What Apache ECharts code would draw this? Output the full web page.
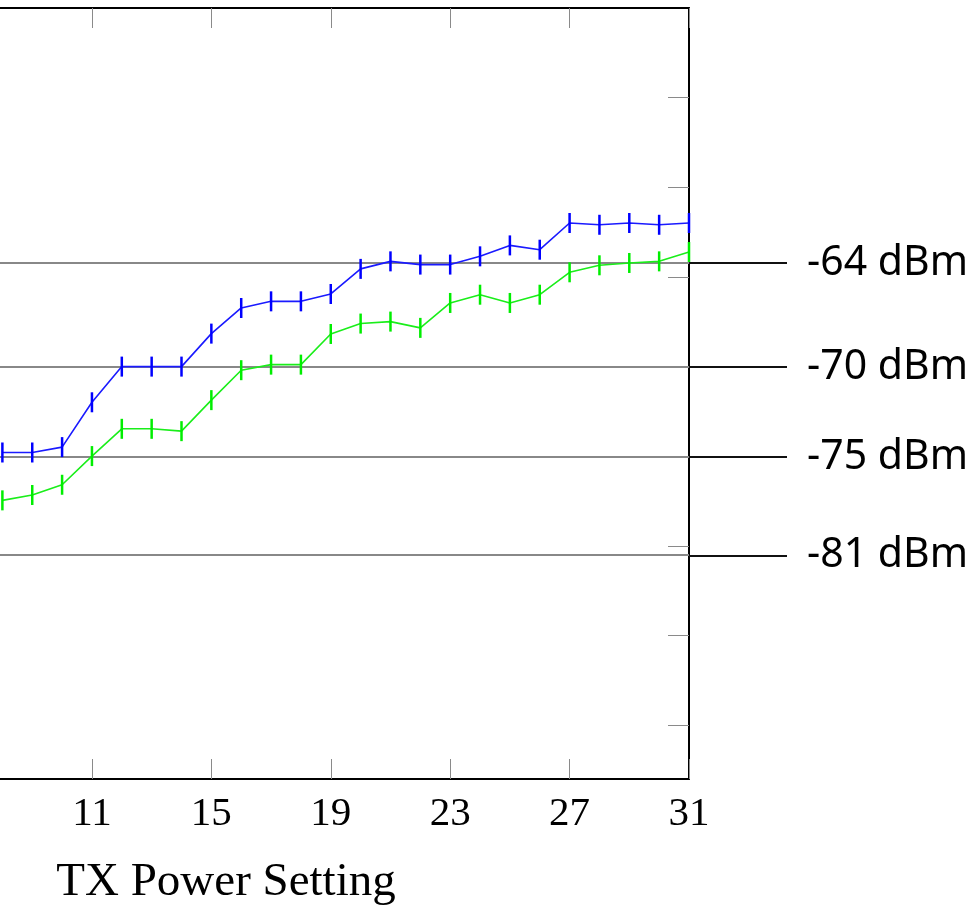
<!DOCTYPE html>
<html>
<head>
<meta charset="utf-8">
<script src="https://cdn.jsdelivr.net/npm/echarts@6/dist/echarts.min.js"></script>
<style>
html,body{margin:0;padding:0;background:#fff;}
#chart{width:975px;height:911px;}
</style>
</head>
<body>
<div id="chart"></div>
<script>
// ---- data ----
var txPower = [8, 9, 10, 11, 12, 13, 14, 15, 16, 17, 18, 19, 20, 21, 22, 23, 24, 25, 26, 27, 28, 29, 30, 31];
var blueRssi = [-74.79, -74.79, -74.49, -71.99, -70.0, -70.0, -70.0, -68.16, -66.73, -66.36, -66.36, -65.95,
                -64.55, -64.13, -64.31, -64.31, -63.85, -63.24, -63.48, -61.99, -62.09, -61.99, -62.09, -61.99];
var greenRssi = [-77.46, -77.16, -76.59, -74.99, -73.47, -73.47, -73.6, -71.87, -70.2, -69.89, -69.89, -68.18,
                 -67.6, -67.49, -67.84, -66.45, -65.99, -66.45, -65.99, -64.74, -64.35, -64.22, -64.13, -63.61];
var xTickValues = [11, 15, 19, 23, 27, 31];
var yTickValues = [-90, -85, -80, -75, -70, -65, -60, -55];
var thresholdLevels = [-64.2, -70.0, -75.0, -80.5];
var thresholdLabels = ['-64 dBm', '-70 dBm', '-75 dBm', '-81 dBm'];
var xAxisName = 'TX Power Setting';

var chart = echarts.init(document.getElementById('chart'), null, {renderer: 'canvas'});

function pairs(xs, ys) { return xs.map(function (x, i) { return [x, ys[i]]; }); }

var X_MIN = 7.92, X_MAX = 31;
var Y_MIN = -93, Y_MAX = -50;
var tickStyle = {show: true, inside: true, length: 20, lineStyle: {color: '#8a8a8a', width: 1}};

var option = {
  animation: false,
  backgroundColor: '#ffffff',
  grid: [
    {left: 0, right: 286, top: 8, bottom: 131, containLabel: false},
    {left: 689, right: 188, top: 8, bottom: 131, containLabel: false}
  ],
  xAxis: [
    {
      type: 'value', gridIndex: 0, position: 'bottom', min: X_MIN, max: X_MAX,
      axisLine: {show: true, onZero: false, lineStyle: {color: '#000', width: 2}},
      axisTick: Object.assign({customValues: xTickValues}, tickStyle),
      axisLabel: {customValues: xTickValues, margin: 15, fontFamily: 'Liberation Serif', fontSize: 41, color: '#000'},
      splitLine: {show: false},
      name: xAxisName, nameLocation: 'middle', nameGap: 80,
      nameTextStyle: {fontFamily: 'Liberation Serif', fontSize: 47, color: '#000', padding: [0, 237, 0, 0]}
    },
    {
      type: 'value', gridIndex: 0, position: 'top', min: X_MIN, max: X_MAX,
      axisLine: {show: true, onZero: false, lineStyle: {color: '#000', width: 2}},
      axisTick: Object.assign({customValues: xTickValues}, tickStyle),
      axisLabel: {show: false},
      splitLine: {show: false}
    },
    {type: 'value', gridIndex: 1, min: 0, max: 1, show: false}
  ],
  yAxis: [
    {
      type: 'value', gridIndex: 0, position: 'right', min: Y_MIN, max: Y_MAX,
      axisLine: {show: true, onZero: false, lineStyle: {color: '#000', width: 2}},
      axisTick: Object.assign({customValues: yTickValues}, tickStyle, {length: 21}),
      axisLabel: {show: false},
      splitLine: {show: false}
    },
    {type: 'value', gridIndex: 1, min: Y_MIN, max: Y_MAX, show: false}
  ],
  series: [
    {
      name: 'thresholds-in', type: 'line', xAxisIndex: 0, yAxisIndex: 0, data: [], z: 1, silent: true,
      markLine: {
        silent: true, z: 1, symbol: ['none', 'none'], animation: false,
        lineStyle: {color: '#888888', width: 2, type: 'solid'},
        label: {show: false},
        data: thresholdLevels.map(function (v) { return {yAxis: v}; })
      }
    },
    {
      name: 'thresholds-out', type: 'line', xAxisIndex: 2, yAxisIndex: 1, data: [], z: 1, silent: true,
      markLine: {
        silent: true, z: 1, symbol: ['none', 'none'], animation: false,
        lineStyle: {color: '#111111', width: 2, type: 'solid'},
        label: {
          show: true, position: 'end', distance: 20,
          fontFamily: 'Noto Sans', fontSize: 41, color: '#000',
          padding: [0, 0, 6, 0],
          formatter: function (p) { return thresholdLabels[p.dataIndex]; }
        },
        data: thresholdLevels.map(function (v) { return {yAxis: v}; })
      }
    },
    {
      name: 'blue', type: 'line', xAxisIndex: 0, yAxisIndex: 0, z: 3,
      data: pairs(txPower, blueRssi),
      symbol: 'rect', symbolSize: [2.5, 20], showAllSymbol: true,
      itemStyle: {color: '#0000ff'},
      lineStyle: {color: '#1a1aff', width: 1.6}
    },
    {
      name: 'green', type: 'line', xAxisIndex: 0, yAxisIndex: 0, z: 3,
      data: pairs(txPower, greenRssi),
      symbol: 'rect', symbolSize: [2.5, 20], showAllSymbol: true,
      itemStyle: {color: '#00ee00'},
      lineStyle: {color: '#1aee1a', width: 1.6}
    }
  ]
};
chart.setOption(option);
</script>
</body>
</html>
